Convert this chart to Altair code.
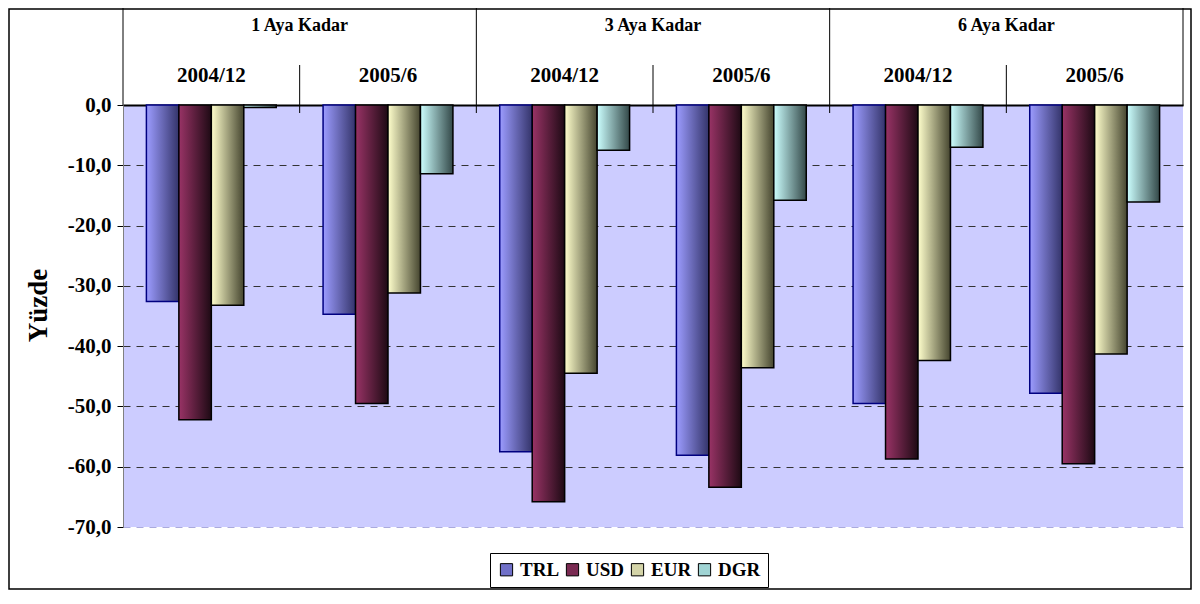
import altair as alt
import pandas as pd

# ---- data ----
periods = ["1 Aya Kadar", "3 Aya Kadar", "6 Aya Kadar"]
dates = ["2004/12", "2005/6"]
series = ["TRL", "USD", "EUR", "DGR"]
trl = [-32.6, -34.7, -57.5, -58.1, -49.5, -47.8]
usd = [-52.2, -49.5, -65.8, -63.4, -58.7, -59.5]
eur = [-33.2, -31.2, -44.5, -43.6, -42.4, -41.3]
dgr = [-0.4, -11.4, -7.5, -15.8, -7.0, -16.1]
y_ticks = [0, -10, -20, -30, -40, -50, -60, -70]

# ---- styles ----
FONT = "Liberation Serif"
light = {"TRL": "#9C9CFF", "USD": "#993366", "EUR": "#FFFFCC", "DGR": "#CCFFFF"}
dark = {"TRL": "#34346A", "USD": "#1E0A14", "EUR": "#45452F", "DGR": "#334848"}
mid = {"TRL": "#7070C8", "USD": "#7A2A52", "EUR": "#D4D4A8", "DGR": "#A0D4D4"}
strokes = {"TRL": "#000080", "USD": "#000000", "EUR": "#000000", "DGR": "#000000"}

groups = [f"{p}|{d}" for p in periods for d in dates]
vals = {"TRL": trl, "USD": usd, "EUR": eur, "DGR": dgr}
rows = []
for i, g in enumerate(groups):
    p, d = g.split("|")
    for s in series:
        rows.append({"group": g, "period": p, "date": d, "series": s, "value": vals[s][i]})
df = pd.DataFrame(rows)
gdf = pd.DataFrame([{"group": g, "period": g.split("|")[0], "date": g.split("|")[1]} for g in groups])

x_scale = alt.Scale(domain=groups, paddingInner=0, paddingOuter=0)
x_axis = alt.Axis(orient="top", labels=False, ticks=False, grid=False, title=None,
                  domainColor="#000000", domainWidth=2)


def X(bp=None):
    if bp is None:
        return alt.X("group:N", sort=groups, scale=x_scale, axis=x_axis)
    return alt.X("group:N", sort=groups, scale=x_scale, axis=x_axis, bandPosition=bp)


xoff = alt.XOffset("series:N", sort=series,
                   scale=alt.Scale(domain=series, paddingInner=0, paddingOuter=0.721))
y_enc = alt.Y(
    "value:Q",
    scale=alt.Scale(domain=[-70, 0], nice=False),
    axis=alt.Axis(
        values=y_ticks,
        labelExpr="(datum.value < 0 ? '-' : '') + replace(format(abs(datum.value), '.1f'), '.', ',')",
        labelFont=FONT, labelFontWeight="bold", labelFontSize=21, labelColor="#000000",
        labelPadding=6, tickSize=6, tickColor="#000000",
        domainColor="#808080", domainWidth=1,
        grid=True, gridDash=[7, 6], gridWidth=1,
        gridColor={"condition": {"test": "datum.value === -70", "value": "#AAAADD"}, "value": "#333333"},
        title="Yüzde", titleFont=FONT, titleFontWeight="bold", titleFontSize=27,
        titleColor="#000000", titleX=-85, titleY=200, titleBaseline="middle", titleAngle=-90,
    ),
)

base = alt.Chart(df)

legend_layer = base.mark_bar().encode(
    x=X(), xOffset=xoff, y=y_enc,
    color=alt.Color("series:N", sort=series,
                    scale=alt.Scale(domain=series, range=[mid[s] for s in series]),
                    legend=alt.Legend(
                        orient="none", legendX=367, legendY=448, direction="horizontal",
                        title=None, labelFont=FONT, labelFontWeight="bold", labelFontSize=19,
                        labelColor="#000000", labelOffset=4, columnPadding=3,
                        symbolType="square", symbolSize=150, symbolStrokeColor="#000000",
                        symbolStrokeWidth=1, symbolOpacity=1,
                        strokeColor="#000000", fillColor="#FFFFFF", padding=7,
                    )),
)

bar_layers = []
for s in series:
    grad = alt.LinearGradient(
        gradient="linear", x1=0, x2=1, y1=0, y2=0,
        stops=[alt.GradientStop(color=light[s], offset=0),
               alt.GradientStop(color=dark[s], offset=1)],
    )
    bar_layers.append(
        base.transform_filter(alt.datum.series == s)
        .mark_bar(fill=grad, stroke=strokes[s], strokeWidth=1.5)
        .encode(x=X(), xOffset=xoff, y=y_enc)
    )

hdr = alt.Chart(gdf)
year_text = hdr.mark_text(font=FONT, fontWeight="bold", fontSize=21, color="#000000",
                          baseline="alphabetic").encode(
    x=X(), y=alt.value(-23), text="date:N")
period_text = hdr.transform_filter(alt.datum.date == dates[0]).mark_text(
    font=FONT, fontWeight="bold", fontSize=18, color="#000000", baseline="alphabetic").encode(
    x=X(1), y=alt.value(-74), text="period:N")

short_rules = hdr.transform_filter(alt.datum.date == dates[1]).mark_rule(
    color="#000000", strokeWidth=1).encode(x=X(0), y=alt.value(-40), y2=alt.value(8))
long_rules_mid = hdr.transform_filter(
    (alt.datum.date == dates[0]) & (alt.datum.period != periods[0])).mark_rule(
    color="#000000", strokeWidth=1).encode(x=X(0), y=alt.value(-97), y2=alt.value(8))
edge_left = hdr.transform_filter(alt.datum.group == groups[0]).mark_rule(
    color="#000000", strokeWidth=1).encode(x=X(0), y=alt.value(-97), y2=alt.value(0))
edge_right = hdr.transform_filter(alt.datum.group == groups[-1]).mark_rule(
    color="#000000", strokeWidth=1).encode(x=X(1), y=alt.value(-97), y2=alt.value(0))

frame = alt.Chart(pd.DataFrame({"a": [0]})).mark_rect(
    fillOpacity=0, stroke="#000000", strokeWidth=1.5).encode(
    x=alt.value(-114), x2=alt.value(1068), y=alt.value(-96), y2=alt.value(484))

chart = alt.layer(
    legend_layer, *bar_layers, year_text, period_text,
    short_rules, long_rules_mid, edge_left, edge_right, frame,
).properties(
    width=1060, height=422,
    autosize=alt.AutoSizeParams(type="none"),
    padding={"left": 115, "top": 97, "right": 9, "bottom": 67},
    background="#FFFFFF",
).configure_view(fill="#CCCCFF", strokeWidth=0)

chart.save("out.html", embed_options={"renderer": "svg", "actions": False})
